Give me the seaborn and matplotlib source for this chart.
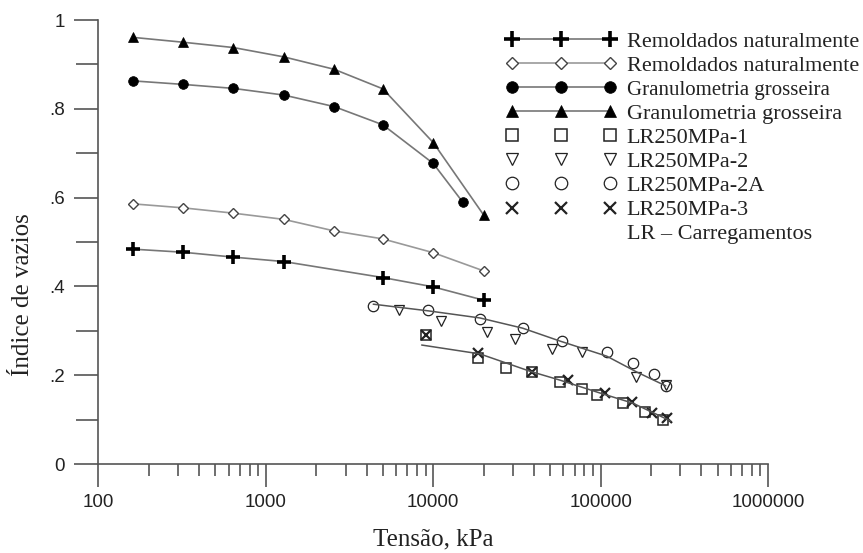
import numpy as np
import matplotlib
matplotlib.use("Agg")
import matplotlib.pyplot as plt
from matplotlib.lines import Line2D
import seaborn as sns

# --- data ---
tensao_std = [160, 320, 640, 1280, 2560, 5000, 10000, 20000]

remold_plus_x = [160, 320, 640, 1280, 5000, 10000, 20000]
remold_plus_y = [0.484, 0.477, 0.466, 0.456, 0.420, 0.399, 0.369]

remold_diam_y = [0.586, 0.577, 0.565, 0.551, 0.525, 0.507, 0.476, 0.435]

granul_circ_x = [160, 320, 640, 1280, 2560, 5000, 10000, 15000]
granul_circ_y = [0.863, 0.855, 0.846, 0.831, 0.805, 0.764, 0.677, 0.590]

granul_tri_y = [0.961, 0.950, 0.938, 0.917, 0.889, 0.845, 0.724, 0.561]

lr1_x = [9100, 18500, 27400, 38700, 57100, 77100, 94700, 136600, 184000, 236000]
lr1_y = [0.290, 0.239, 0.216, 0.208, 0.185, 0.170, 0.155, 0.137, 0.118, 0.099]

lr2_x = [6270, 11200, 21000, 30800, 51000, 77100, 162500, 245000]
lr2_y = [0.347, 0.323, 0.298, 0.281, 0.258, 0.252, 0.196, 0.178]

lr2a_x = [4380, 9330, 19000, 34200, 59100, 108700, 156700, 208000, 245000]
lr2a_y = [0.356, 0.347, 0.326, 0.306, 0.278, 0.252, 0.227, 0.203, 0.175]

lr3_x = [9100, 18500, 38700, 63800, 106000, 153000, 202000, 248000]
lr3_y = [0.290, 0.250, 0.208, 0.189, 0.159, 0.140, 0.114, 0.103]

# trend lines through the LR points
fit_sup_x = [4380, 9330, 19000, 34200, 57100, 108700, 164800, 245000]
fit_sup_y = [0.360, 0.345, 0.329, 0.306, 0.277, 0.243, 0.207, 0.176]
fit_inf_x = [8530, 19000, 37800, 57100, 99000, 156000, 262000]
fit_inf_y = [0.268, 0.248, 0.209, 0.189, 0.160, 0.137, 0.097]

x_ticks = [100, 1000, 10000, 100000, 1000000]
x_labels = ["100", "1000", "10000", "100000", "1000000"]
y_ticks = [0, 0.2, 0.4, 0.6, 0.8, 1.0]
y_labels = ["0", ".2", ".4", ".6", ".8", "1"]

sns.set_style("ticks")
plt.rcParams["font.family"] = ["Liberation Serif", "DejaVu Serif"]

fig = plt.figure(figsize=(8.63, 5.53), dpi=100)
ax = fig.add_axes([0.1141, 0.1609, 0.7758, 0.8029])

line_c = "#777777"
common = dict(ax=ax, estimator=None, sort=False, errorbar=None)

sns.lineplot(x=remold_plus_x, y=remold_plus_y, color=line_c, lw=1.2,
             marker="+", markersize=10, mec="black", mew=2.6,
             label="Remoldados naturalmente", **common)
sns.lineplot(x=tensao_std, y=remold_diam_y, color="#999999", lw=1.2,
             marker="D", markersize=5.5, mec="#444444", mfc="white", mew=1.0,
             label="Remoldados naturalmente", **common)
sns.lineplot(x=granul_circ_x, y=granul_circ_y, color=line_c, lw=1.2,
             marker="o", markersize=7, mec="black", mfc="black", mew=0.5,
             label="Granulometria grosseira", **common)
sns.lineplot(x=tensao_std, y=granul_tri_y, color=line_c, lw=1.2,
             marker="^", markersize=7, mec="black", mfc="black", mew=0.5,
             label="Granulometria grosseira", **common)

open_kw = dict(linestyle="none", color="black", mfc="none", mec="#222222")
sns.lineplot(x=lr1_x, y=lr1_y, marker="s", markersize=7, mew=1.1,
             label="LR250MPa-1", **open_kw, **common)
sns.lineplot(x=lr2_x, y=lr2_y, marker="v", markersize=7.5, mew=0.9,
             label="LR250MPa-2", **open_kw, **common)
sns.lineplot(x=lr2a_x, y=lr2a_y, marker="o", markersize=7.5, mew=0.9,
             label="LR250MPa-2A", **open_kw, **common)
sns.lineplot(x=lr3_x, y=lr3_y, marker="x", markersize=7, mew=1.6,
             label="LR250MPa-3", **open_kw, **common)

sns.lineplot(x=fit_sup_x, y=fit_sup_y, color="#555555", lw=1.1, **common)
sns.lineplot(x=fit_inf_x, y=fit_inf_y, color="#555555", lw=1.1, **common)

ax.set_xscale("log")
ax.set_xlim(100, 1000000)
ax.set_ylim(0, 1)
ax.set_xticks(x_ticks)
ax.set_xticklabels(x_labels)
ax.set_yticks(y_ticks)
ax.set_yticklabels(y_labels)
ax.set_yticks([0.1, 0.3, 0.5, 0.7, 0.9], minor=True)

axis_c = "#555555"
for side in ["top", "right"]:
    ax.spines[side].set_visible(False)
for side in ["left", "bottom"]:
    ax.spines[side].set_color(axis_c)
    ax.spines[side].set_linewidth(1.2)

ax.tick_params(axis="y", which="major", length=17, width=1.2, color=axis_c, pad=7)
ax.tick_params(axis="y", which="minor", length=15.5, width=1.2, color=axis_c)
ax.tick_params(axis="x", which="major", length=16.5, width=1.2, color=axis_c, pad=5)
ax.tick_params(axis="x", which="minor", length=8.5, width=1.2, color=axis_c)
for lab in ax.get_xticklabels() + ax.get_yticklabels():
    lab.set_family(["Liberation Sans", "DejaVu Sans"])
    lab.set_fontsize(13.5)
    lab.set_color("#222222")

ax.set_xlabel("Tensão, kPa", fontsize=18, color="#222222", labelpad=13)
ax.set_ylabel("Índice de vazios", fontsize=18, color="#222222")
ax.yaxis.set_label_coords(-0.097, 0.381)

handles, labels = ax.get_legend_handles_labels()
handles.append(Line2D([], [], linestyle="none"))
labels.append("LR – Carregamentos")
leg = ax.legend(handles, labels, loc="upper left", frameon=False,
                bbox_to_anchor=(505.4 / 863, 1 - 31 / 553),
                bbox_transform=fig.transFigure, borderaxespad=0, borderpad=0,
                numpoints=3, handlelength=5.0, handletextpad=0.45,
                labelspacing=0.16, markerscale=1.2, fontsize=16)
for t in leg.get_texts():
    t.set_color("#222222")
leg.get_texts()[2].set_fontsize(15)

fig.savefig("out.png", dpi=100)
